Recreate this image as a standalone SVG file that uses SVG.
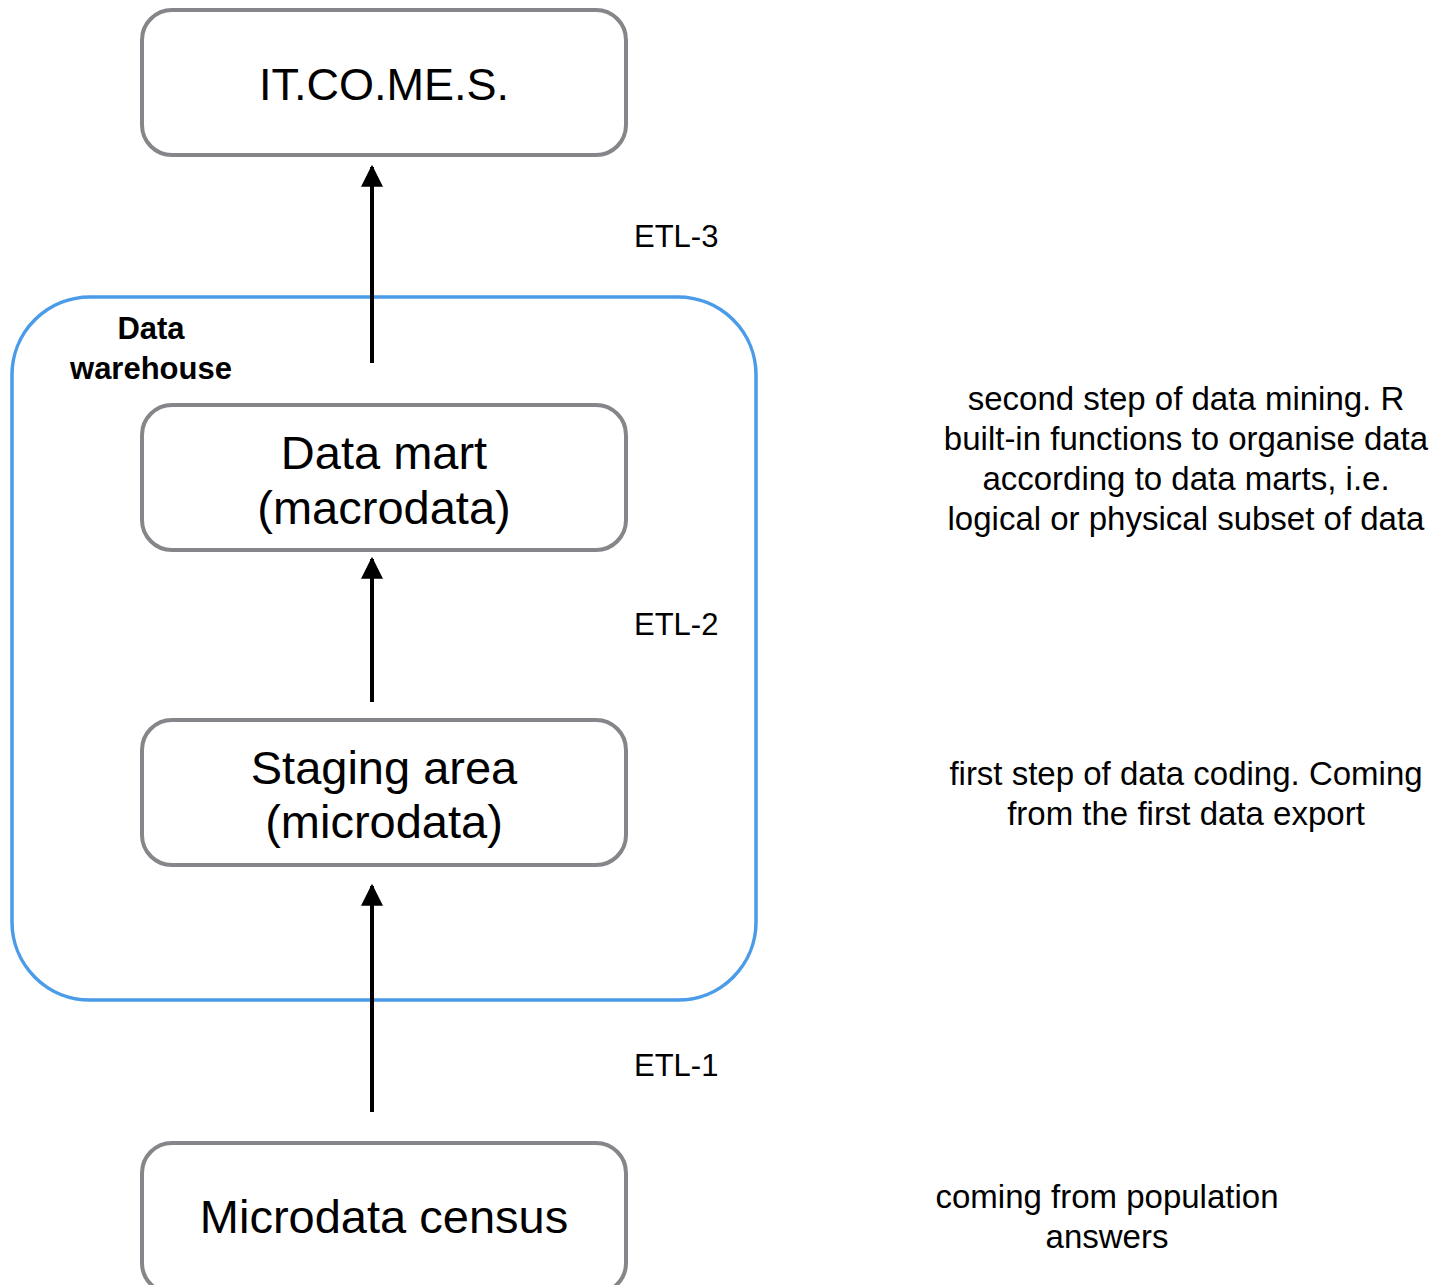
<svg xmlns="http://www.w3.org/2000/svg" width="1450" height="1285" viewBox="0 0 1450 1285">
<defs>
<style>
.box{fill:#fff;stroke:#86868a;stroke-width:4}
.dw{fill:none;stroke:#4a9be8;stroke-width:3.5}
.t{font-family:"Liberation Sans",Arial,sans-serif;fill:#000}
.big{font-size:47px;text-anchor:middle}
.etl{font-size:31px}
.note{font-size:33px;text-anchor:middle}
.bold{font-size:31px;font-weight:bold;text-anchor:middle}
.arr{stroke:#000;stroke-width:4;fill:none;marker-end:url(#ah)}
</style>
<marker id="ah" viewBox="0 0 10 10" refX="9" refY="5" markerWidth="5.5" markerHeight="5.5" orient="auto" markerUnits="strokeWidth">
<path d="M0,0 L10,5 L0,10 z" fill="#000"/>
</marker>
</defs>
<rect width="1450" height="1285" fill="#fff"/>
<g id="data-warehouse">
<rect class="dw" x="12" y="297" width="744" height="703" rx="78" ry="78"/>
<text class="t bold" x="151" y="339">Data</text>
<text class="t bold" x="151" y="379">warehouse</text>
</g>
<g id="connectors">
<line class="arr" x1="372" y1="1112" x2="372" y2="886"/>
<line class="arr" x1="372" y1="702" x2="372" y2="559"/>
<line class="arr" x1="372" y1="363" x2="372" y2="167"/>
</g>
<g id="itcomes">
<rect class="box" x="142" y="10" width="484" height="145" rx="30" ry="30"/>
<text class="t big" x="384" y="100" style="font-size:45px">IT.CO.ME.S.</text>
</g>
<g id="data-mart">
<rect class="box" x="142" y="405" width="484" height="145" rx="30" ry="30"/>
<text class="t big" x="384" y="469">Data mart</text>
<text class="t big" x="384" y="524">(macrodata)</text>
</g>
<g id="staging-area">
<rect class="box" x="142" y="720" width="484" height="145" rx="30" ry="30"/>
<text class="t big" x="384" y="784">Staging area</text>
<text class="t big" x="384" y="838">(microdata)</text>
</g>
<g id="microdata-census">
<rect class="box" x="142" y="1143" width="484" height="150" rx="30" ry="30"/>
<text class="t big" x="384" y="1233">Microdata census</text>
</g>
<g id="labels">
<text class="t etl" x="634" y="247">ETL-3</text>
<text class="t etl" x="634" y="635">ETL-2</text>
<text class="t etl" x="634" y="1076">ETL-1</text>
<text class="t note" x="1186" y="410">second step of data mining. R</text>
<text class="t note" x="1186" y="450">built-in functions to organise data</text>
<text class="t note" x="1186" y="490">according to data marts, i.e.</text>
<text class="t note" x="1186" y="530">logical or physical subset of data</text>
<text class="t note" x="1186" y="785">first step of data coding. Coming</text>
<text class="t note" x="1186" y="825">from the first data export</text>
<text class="t note" x="1107" y="1208">coming from population</text>
<text class="t note" x="1107" y="1248">answers</text>
</g>
</svg>
